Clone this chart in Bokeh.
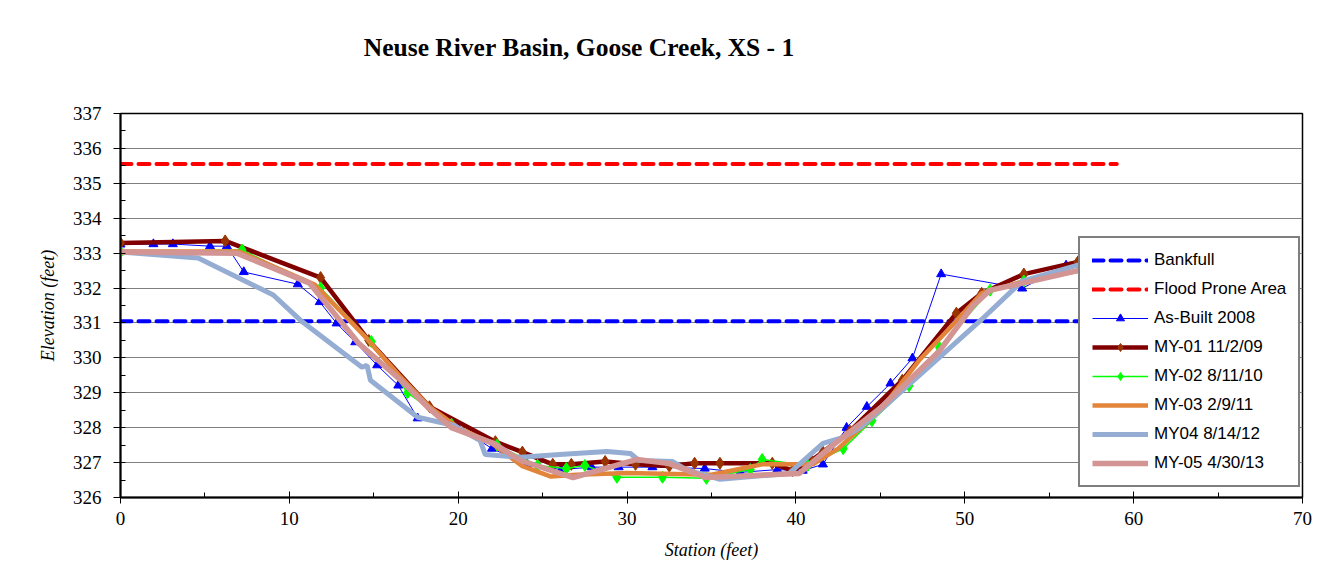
from bokeh.plotting import figure
from bokeh.layouts import column
from bokeh.models import (Range1d, SingleIntervalTicker, Legend, LegendItem, Label)
from bokeh.embed import file_html
from bokeh.resources import INLINE

# ---------------- data ----------------
bank_x = [0, 59]
bank_y = [331.05, 331.05]
flood_x = [0, 59]
flood_y = [335.55, 335.55]

asbuilt_x = [0, 1.95, 3.1, 5.3, 6.3, 7.3, 10.5, 11.8, 12.8, 13.9, 15.2, 16.45, 17.6, 19.9,
             22.0, 24.1, 26.1, 27.9, 29.5, 31.5, 34.6, 36.7, 38.9, 40.4, 41.6, 43.0, 44.2,
             45.6, 46.9, 48.6, 53.4, 56.0, 58.5]
asbuilt_y = [333.25, 333.26, 333.26, 333.2, 333.2, 332.46, 332.11, 331.6, 330.99, 330.45,
             329.79, 329.21, 328.27, 328.07, 327.4, 326.95, 326.8, 326.87, 326.87, 326.87,
             326.83, 326.72, 326.8, 326.77, 326.95, 328.0, 328.6, 329.27, 329.99, 332.4,
             331.99, 332.65, 332.95]

my01_x = [0, 6.2, 11.85, 14.7, 18.3, 22.2, 23.8, 25.6, 26.7, 28.7, 30.5, 32.5, 34.0, 35.5,
          38.6, 39.8, 40.9, 41.6, 43.2, 46.3, 49.5, 51.0, 53.5, 56.7, 59.0]
my01_y = [333.29, 333.35, 332.3, 330.5, 328.6, 327.6, 327.3, 326.95, 326.95, 327.03, 326.95,
          326.9, 326.98, 326.98, 326.98, 326.77, 327.06, 327.3, 327.9, 329.36, 331.28, 331.85,
          332.4, 332.75, 333.0]

my02_x = [0, 7.2, 11.85, 14.85, 17.0, 19.6, 22.3, 24.7, 26.4, 27.5, 29.4, 32.1, 34.7, 37.3,
          38.0, 40.7, 42.8, 44.5, 46.7, 48.5, 51.5, 53.5, 59.0]
my02_y = [333.03, 333.09, 332.0, 330.47, 329.0, 328.1, 327.5, 326.92, 326.83, 326.92, 326.58,
          326.58, 326.55, 326.8, 327.09, 326.92, 327.4, 328.2, 329.2, 330.3, 331.94, 332.2,
          332.7]

my03_x = [0, 7.0, 11.5, 14.5, 16.5, 18.3, 20.0, 22.0, 23.8, 25.5, 27.0, 30.0, 35.0, 37.0,
          38.0, 41.0, 42.5, 45.0, 47.3, 49.0, 51.0, 53.5, 59.0]
my03_y = [333.05, 333.05, 332.1, 330.6, 329.5, 328.6, 328.0, 327.55, 326.9, 326.6, 326.65,
          326.7, 326.65, 326.85, 326.95, 326.95, 327.4, 328.5, 329.93, 330.8, 331.85, 332.2,
          332.7]

my04_x = [0, 4.6, 9.05, 10.65, 14.3, 14.6, 14.8, 17.6, 19.7, 21.3, 21.6, 23.7, 26.0, 28.8,
          30.2, 30.7, 32.7, 33.5, 35.5, 39.6, 41.6, 42.8, 43.8, 45.0, 48.0, 51.0, 53.4, 57.0,
          59.0]
my04_y = [333.03, 332.86, 331.8, 331.08, 329.73, 329.79, 329.36, 328.3, 328.07, 327.63,
          327.23, 327.15, 327.23, 327.32, 327.26, 327.06, 327.03, 326.8, 326.52, 326.69,
          327.55, 327.72, 328.0, 328.5, 329.8, 331.1, 332.2, 332.7, 332.85]

my05_x = [0, 6.9, 11.2, 14.1, 16.6, 18.2, 19.6, 22.1, 23.7, 26.8, 30.6, 32.5, 34.7, 40.2,
          42.0, 45.1, 48.5, 50.5, 51.5, 53.7, 56.7, 59.0]
my05_y = [333.03, 333.0, 332.14, 330.42, 329.36, 328.58, 328.0, 327.55, 327.06, 326.57,
          327.09, 326.97, 326.57, 326.69, 327.43, 328.6, 330.2, 331.5, 331.94, 332.17, 332.5,
          332.65]

title_text = "Neuse  River Basin, Goose Creek, XS - 1"
x_label = "Station (feet)"
y_label = "Elevation (feet)"

SERIF = "Liberation Serif"

# ---------------- title strip ----------------
TITLE_H = 100
pt = figure(width=1331, height=TITLE_H, output_backend="svg", toolbar_location=None,
            x_range=Range1d(0, 1331), y_range=Range1d(0, TITLE_H),
            min_border=0, min_border_left=0, min_border_right=0, min_border_top=0,
            min_border_bottom=0)
pt.xaxis.visible = False
pt.yaxis.visible = False
pt.xgrid.visible = False
pt.ygrid.visible = False
pt.outline_line_color = None
pt.title.visible = False
pt.add_layout(Label(x=274, y=TITLE_H - 47, text=title_text, text_align="left",
                    text_baseline="middle", text_font=SERIF, text_font_style="bold",
                    text_font_size="25.5px", text_color="black"))

# ---------------- figure ----------------
p = figure(width=1331, height=579 - TITLE_H, output_backend="svg", toolbar_location=None,
           x_range=Range1d(0, 70), y_range=Range1d(326, 337),
           min_border_left=120, min_border_right=29, min_border_top=113 - TITLE_H,
           min_border_bottom=82)
p.outline_line_color = "black"
p.outline_line_width = 1.5
p.title.visible = False

p.xaxis.ticker = SingleIntervalTicker(interval=10, num_minor_ticks=2)
p.yaxis.ticker = SingleIntervalTicker(interval=1, num_minor_ticks=2)
p.xgrid.visible = False
p.ygrid.grid_line_color = "#7f7f7f"
p.ygrid.grid_line_width = 1.2

for ax in (p.xaxis[0], p.yaxis[0]):
    ax.axis_line_color = "black"
    ax.axis_line_width = 2
    ax.major_label_text_font = SERIF
    ax.major_label_text_font_size = "19px"
    ax.major_label_text_color = "black"
    ax.axis_label_text_font = SERIF
    ax.axis_label_text_font_style = "italic"
    ax.axis_label_text_font_size = "18px"
    ax.axis_label_text_color = "black"
    ax.major_tick_line_color = "black"
    ax.minor_tick_line_color = "black"

p.xaxis.axis_label = x_label
p.yaxis.axis_label = y_label
p.xaxis.major_tick_in = 6
p.xaxis.major_tick_out = 6
p.xaxis.minor_tick_in = 5
p.xaxis.minor_tick_out = 0
p.yaxis.major_tick_in = 0
p.yaxis.major_tick_out = 7
p.yaxis.minor_tick_in = 5
p.yaxis.minor_tick_out = 0
p.xaxis.major_label_standoff = 8
p.yaxis.major_label_standoff = 12
p.xaxis.axis_label_standoff = 12
p.yaxis.axis_label_standoff = 12

# ---------------- series ----------------
r_flood = p.line(flood_x, flood_y, line_color="#ff0000", line_width=4, line_dash="11 7",
                 line_cap="round")
r_bank = p.line(bank_x, bank_y, line_color="#0000ff", line_width=4, line_dash="11 7",
                line_cap="round")

r_ab_l = p.line(asbuilt_x, asbuilt_y, line_color="#0000ff", line_width=1)
r_ab_m = p.scatter(asbuilt_x, asbuilt_y, marker="triangle", size=9, fill_color="#0000ff",
                   line_color="#0000ff")

r_01_l = p.line(my01_x, my01_y, line_color="#800000", line_width=4.5)
r_01_m = p.scatter(my01_x, my01_y, marker="diamond", size=12, fill_color="#993300",
                   line_color="#993300")

r_02_l = p.line(my02_x, my02_y, line_color="#00ff00", line_width=1.5)
r_02_m = p.scatter(my02_x, my02_y, marker="diamond", size=12, fill_color="#00ff00",
                   line_color="#00ff00")

r_03 = p.line(my03_x, my03_y, line_color="#e2853b", line_width=4.5)
r_04 = p.line(my04_x, my04_y, line_color="#95add3", line_width=5)
r_05 = p.line(my05_x, my05_y, line_color="#d39494", line_width=5.5)

items = [
    LegendItem(label="Bankfull", renderers=[r_bank]),
    LegendItem(label="Flood Prone Area", renderers=[r_flood]),
    LegendItem(label="As-Built 2008", renderers=[r_ab_l, r_ab_m]),
    LegendItem(label="MY-01 11/2/09", renderers=[r_01_l, r_01_m]),
    LegendItem(label="MY-02 8/11/10", renderers=[r_02_l, r_02_m]),
    LegendItem(label="MY-03 2/9/11", renderers=[r_03]),
    LegendItem(label="MY04 8/14/12", renderers=[r_04]),
    LegendItem(label="MY-05 4/30/13", renderers=[r_05]),
]
legend = Legend(items=items, location=(958, 10), orientation="vertical")
legend.border_line_color = "black"
legend.border_line_width = 2
legend.background_fill_color = "white"
legend.background_fill_alpha = 1
legend.label_text_font = "Liberation Sans"
legend.label_text_font_size = "17px"
legend.label_text_color = "black"
legend.glyph_width = 56
legend.glyph_height = 20
legend.label_height = 20
legend.spacing = 9
legend.padding = 12
legend.margin = 0
legend.label_standoff = 6
p.add_layout(legend, "center")

layout = column(pt, p, spacing=0)
open("out.html", "w").write(file_html(layout, INLINE))
